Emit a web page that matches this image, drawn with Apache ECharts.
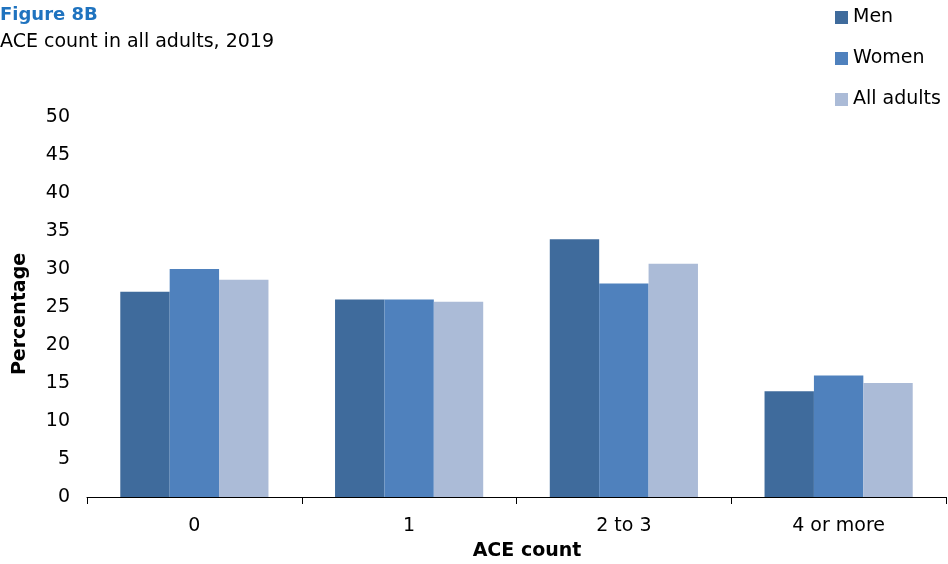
<!DOCTYPE html>
<html>
<head>
<meta charset="utf-8">
<script src="https://cdn.jsdelivr.net/npm/echarts@6/dist/echarts.min.js"></script>
<style>html,body{margin:0;padding:0;background:#fff}#c{width:948px;height:564px}</style>
</head>
<body>
<div id="c"></div>
<script>
const categories = ['0', '1', '2 to 3', '4 or more'];
const men = [27.0, 26.0, 33.9, 13.9];
const women = [30.0, 26.0, 28.1, 16.0];
const allAdults = [28.6, 25.7, 30.7, 15.0];
const FONT = 'DejaVu Sans';
const chart = echarts.init(document.getElementById('c'));
chart.setOption({
  animation: false,
  textStyle: { fontFamily: FONT },
  title: [
    { text: 'Figure 8B', left: -5, top: 1, textStyle: { fontFamily: FONT, fontSize: 18, fontWeight: 'bold', color: '#1f73bf' } },
    { text: 'ACE count in all adults, 2019', left: -5, top: 28, textStyle: { fontFamily: FONT, fontSize: 19, fontWeight: 'normal', color: '#000' } }
  ],
  legend: {
    orient: 'vertical', left: 830, top: 3, itemWidth: 13, itemHeight: 13, itemGap: 22,
    icon: 'rect', textStyle: { fontFamily: FONT, fontSize: 19, color: '#000' },
    data: ['Men', 'Women', 'All adults']
  },
  graphic: [
    { type: 'text', x: 20, y: 314, rotation: Math.PI / 2,
      style: { text: 'Percentage', x: 0, y: 0, align: 'center', verticalAlign: 'middle', font: 'bold 19px "DejaVu Sans"', fill: '#000' } },
    { type: 'text', x: 527, y: 551,
      style: { text: 'ACE count', x: 0, y: 0, align: 'center', verticalAlign: 'middle', font: 'bold 19px "DejaVu Sans"', fill: '#000' } }
  ],
  grid: { left: 87, right: 2, top: 117, bottom: 67 },
  xAxis: {
    type: 'category', data: categories,
    axisLine: { lineStyle: { color: '#000', width: 1 } },
    axisTick: { show: true, length: 7, lineStyle: { color: '#000' } },
    axisLabel: { fontFamily: FONT, fontSize: 19, color: '#000', margin: 20 }
  },
  yAxis: {
    type: 'value', min: 0, max: 50, interval: 5,
    axisLine: { show: false }, axisTick: { show: false }, splitLine: { show: false },
    axisLabel: { fontFamily: FONT, fontSize: 19, color: '#000', margin: 17 }
  },
  series: [
    { name: 'Men', type: 'bar', data: men, itemStyle: { color: '#3f6b9c' }, barGap: '0%', barCategoryGap: '31%' },
    { name: 'Women', type: 'bar', data: women, itemStyle: { color: '#4f81bd' }, barGap: '0%', barCategoryGap: '31%' },
    { name: 'All adults', type: 'bar', data: allAdults, itemStyle: { color: '#abbbd7' }, barGap: '0%', barCategoryGap: '31%' }
  ]
});
</script>
</body>
</html>
